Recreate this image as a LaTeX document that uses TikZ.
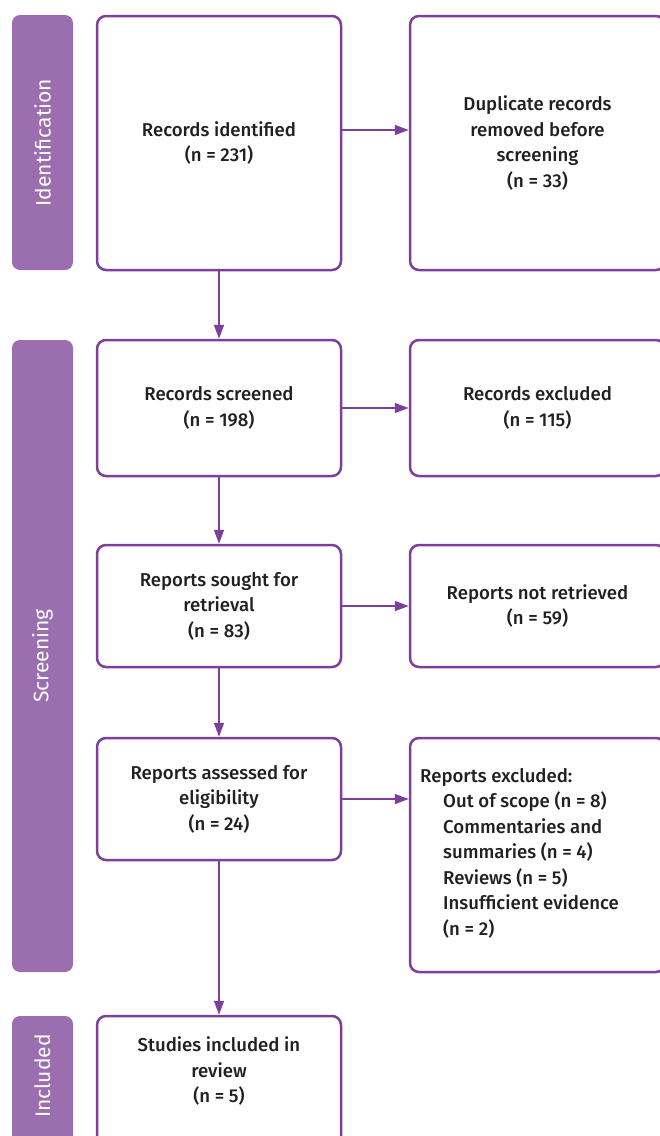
\documentclass[tikz,border=0pt]{standalone}
\usepackage{fontspec}
\setmainfont{Fira Sans}[BoldFont={Fira Sans Medium}]
\usetikzlibrary{arrows.meta}
\definecolor{bord}{HTML}{7E3F9C}
\definecolor{side}{HTML}{9B6FAF}
\definecolor{txt}{HTML}{231F20}
\tikzset{
  box/.style={draw=bord, line width=2.5pt, rounded corners=9pt, fill=white, align=center,
    inner sep=0pt, font=\fontsize{18.6}{25.5}\selectfont\bfseries, text=txt},
  boxtext/.style={align=center, inner sep=0pt, font=\fontsize{18.6}{25.5}\selectfont\bfseries, text=txt},
  sidebar/.style={fill=side, rounded corners=8pt, rotate=90, inner sep=0pt, text=white,
    font=\fontsize{21}{22}\selectfont},
  arr/.style={draw=bord, line width=1.6pt, -{Triangle[length=14pt,width=10pt]}}
}
\begin{document}
\begin{tikzpicture}[x=1pt,y=-1pt]
\useasboundingbox (0,0) rectangle (660,1136);
% sidebars
\node[sidebar, minimum width=255pt, minimum height=61pt] (s1) at (42.5,142.5) {Identification};
\node[sidebar, minimum width=632pt, minimum height=61pt] (s2) at (42.5,656) {Screening};
\node[sidebar, minimum width=140pt, minimum height=61pt] (s3) at (42.5,1086) {};
\node[text=white, rotate=90, inner sep=0pt, font=\fontsize{21}{22}\selectfont] (s3t) at (42.5,1076) {Included};
% left boxes
\node[box, minimum width=244pt, minimum height=254pt] (b1) at (219,143) {Records identified\\(n = 231)};
\node[box, minimum width=244pt, minimum height=136pt] (b2) at (219,408) {Records screened\\(n = 198)};
\node[box, minimum width=244pt, minimum height=122pt] (b3) at (219,606) {Reports sought for\\retrieval\\(n = 83)};
\node[box, minimum width=244pt, minimum height=122pt] (b4) at (219,799) {Reports assessed for\\eligibility\\(n = 24)};
\node[box, minimum width=244pt, minimum height=140pt] (b5) at (219,1086) {};
\node[boxtext] (b5t) at (219,1071) {Studies included in\\review\\(n = 5)};
% right boxes
\node[box, minimum width=255pt, minimum height=254pt] (r1) at (537.5,143) {Duplicate records\\removed before\\screening\\(n = 33)};
\node[box, minimum width=255pt, minimum height=136pt] (r2) at (537.5,408) {Records excluded\\(n = 115)};
\node[box, minimum width=255pt, minimum height=122pt] (r3) at (537.5,606) {Reports not retrieved\\(n = 59)};
\node[box, minimum width=255pt, minimum height=234pt] (r4) at (537.5,855) {};
\node[boxtext, align=left, anchor=west] (r4t) at (420,853) {Reports excluded:\\
\hspace*{23pt}Out of scope (n = 8)\\
\hspace*{23pt}Commentaries and\\
\hspace*{23pt}summaries (n = 4)\\
\hspace*{23pt}Reviews (n = 5)\\
\hspace*{23pt}Insufficient evidence\\
\hspace*{23pt}(n = 2)};
% arrows
\draw[arr] ([yshift=13pt]b1.east) -- ([yshift=13pt]b1.east -| r1.west);
\draw[arr] (b2.east) -- (b2.east -| r2.west);
\draw[arr] (b3.east) -- (b3.east -| r3.west);
\draw[arr] (b4.east) -- (b4.east -| r4.west);
\draw[arr] (b1.south) -- (b2.north);
\draw[arr] (b2.south) -- (b3.north);
\draw[arr] (b3.south) -- (b4.north);
\draw[arr] (b4.south) -- (b5.north);
\end{tikzpicture}
\end{document}
